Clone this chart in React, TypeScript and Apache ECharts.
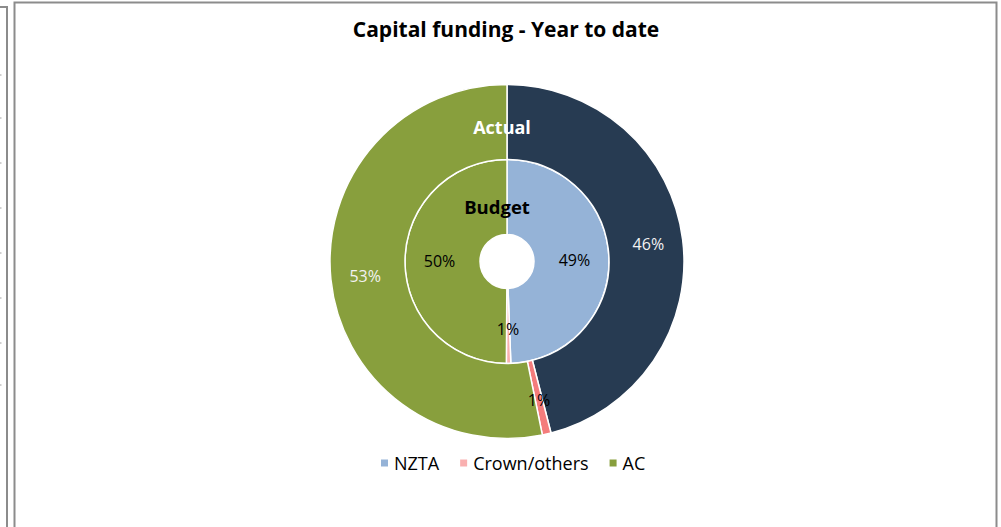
import React, { useEffect, useRef } from "react";
import * as echarts from "echarts";

const categories = ["NZTA", "Crown/others", "AC"];
const budgetValues = [49.4, 0.7, 49.9];
const actualValues = [46.0, 0.8, 53.2];
const budgetColors = ["#95B3D7", "#F9B0B0", "#889F3D"];
const actualColors = ["#273B52", "#F47C7C", "#889F3D"];
const actualLabelColors = ["#F2F2F2", "#000000", "#F2F2F2"];
const leftTicksY = [75, 118, 163, 208, 253, 298, 343, 385];

const FONT = "'Open Sans', Lato, sans-serif";

export default function App() {
  const ref = useRef<HTMLDivElement>(null);
  useEffect(() => {
    if (!ref.current) return;
    const chart = echarts.init(ref.current, null, { renderer: "svg" });
    const cx = 507;
    const cy = 261.5;
    const graphics: any[] = [
      {
        type: "rect",
        shape: { x: 14.5, y: 2.5, width: 982, height: 540 },
        style: { fill: "none", stroke: "#8C8C8C", lineWidth: 2 },
        silent: true,
      },
      {
        type: "polyline",
        shape: { points: [[0, 7], [7, 7], [7, 540]] },
        style: { fill: "none", stroke: "#8C8C8C", lineWidth: 2 },
        silent: true,
      },
      ...leftTicksY.map((y) => ({
        type: "line",
        shape: { x1: 0, y1: y, x2: 1.5, y2: y },
        style: { stroke: "#A0A0A0", lineWidth: 1 },
        silent: true,
      })),
      {
        type: "text",
        x: 502,
        y: 127,
        style: {
          text: "Actual",
          fill: "#FFFFFF",
          font: `bold 18px ${FONT}`,
          align: "center",
          verticalAlign: "middle",
        },
        z: 100,
      },
      {
        type: "text",
        x: 497,
        y: 206,
        style: {
          text: "Budget",
          fill: "#000000",
          font: `bold 18.5px ${FONT}`,
          align: "center",
          verticalAlign: "middle",
        },
        z: 100,
      },
    ];

    const option: any = {
      animation: false,
      backgroundColor: "#FFFFFF",
      title: {
        text: "Capital funding - Year to date",
        left: 501,
        top: 13,
        textAlign: "center",
        textStyle: { fontFamily: FONT, fontWeight: "bold", fontSize: 21, color: "#000000" },
      },
      legend: {
        data: categories,
        left: 374,
        top: 449,
        itemWidth: 9,
        itemHeight: 9,
        itemGap: 19,
        icon: "rect",
        textStyle: { fontFamily: FONT, fontSize: 18, color: "#000000" },
      },
      graphic: graphics,
      series: [
        {
          name: "Budget",
          type: "pie",
          center: [cx, cy],
          radius: [27, 102],
          startAngle: 90,
          clockwise: true,
          avoidLabelOverlap: false,
          percentPrecision: 0,
          itemStyle: { borderColor: "#FFFFFF", borderWidth: 1.5 },
          label: {
            show: true,
            position: "inside",
            formatter: "{d}%",
            color: "#000000",
            fontFamily: FONT,
            fontSize: 16,
          },
          labelLine: { show: false },
          emphasis: { disabled: true },
          data: categories.map((c, i) => ({
            name: c,
            value: budgetValues[i],
            itemStyle: { color: budgetColors[i] },
          })),
        },
        {
          name: "Actual",
          type: "pie",
          center: [cx, cy],
          radius: [102, 177],
          startAngle: 90,
          clockwise: true,
          avoidLabelOverlap: false,
          percentPrecision: 0,
          itemStyle: { borderColor: "#FFFFFF", borderWidth: 1.5 },
          label: {
            show: true,
            position: "inside",
            formatter: "{d}%",
            fontFamily: FONT,
            fontSize: 16,
          },
          labelLine: { show: false },
          emphasis: { disabled: true },
          data: categories.map((c, i) => ({
            name: c,
            value: actualValues[i],
            itemStyle: { color: actualColors[i] },
            label: { color: actualLabelColors[i] },
          })),
        },
      ],
    };
    chart.setOption(option);
    return () => chart.dispose();
  }, []);
  return (
    <div
      ref={ref}
      style={{ position: "fixed", left: 0, top: 0, width: 1001, height: 527 }}
    />
  );
}
